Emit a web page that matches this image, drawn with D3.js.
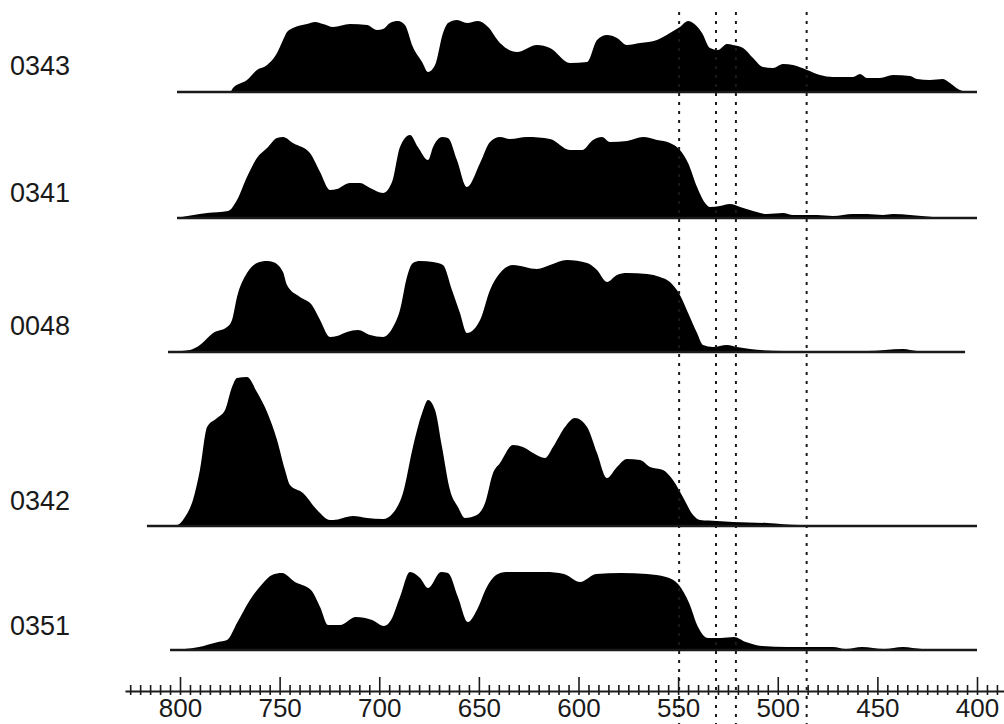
<!DOCTYPE html>
<html>
<head>
<meta charset="utf-8">
<script src="https://cdn.jsdelivr.net/npm/d3@7"></script>
<style>
  body { margin: 0; background: #fff; }
  svg { display: block; }
</style>
</head>
<body>
<svg id="canvas"></svg>
<script>
// sample names, top to bottom
const sampleNames = ["0343", "0341", "0048", "0342", "0351"];

// [wavelength nm, relative intensity]
const s0343 = [[801.5,0],[774.9,0],[773.4,4],[766.4,12],[761.4,22],[756.3,27],[751.3,39],[748.3,52],[746.3,60],[743.3,64],[736.3,68],[732.2,70],[728.2,68],[723.2,65],[714.7,68],[706.1,67],[701.1,62],[698.1,63],[694.6,69],[690.6,71],[687.1,67],[683.1,45],[678.5,30],[675.5,20],[672,27],[668,59],[665.5,69],[661,72],[656,69],[650.4,71],[645.4,65],[639.4,49],[630.9,40],[620.8,47],[614.3,44],[604.3,29],[595.7,30],[590.7,52],[585.7,57],[580.7,54],[575.7,47],[569.1,49],[560.6,52],[554.1,59],[549.1,65],[545,71],[542.5,69],[538,59],[534,44],[530,42],[525.5,48],[522.5,47],[517.4,44],[512.4,34],[507.4,25],[502.4,24],[497.4,28],[492.3,27],[485.3,22],[478.8,17],[472.3,15],[462.2,15],[458.7,18],[455.2,14],[448.7,14],[442.2,17],[433.6,16],[430.1,13],[423.6,12],[417.1,13],[413.6,9],[409.5,3],[407,1],[400,1]];
const s0341 = [[801.5,0],[786.4,5],[775.9,7],[771.4,18],[766.4,41],[761.4,60],[756.3,70],[751.3,80],[748.3,81],[743.3,75],[734.8,65],[729.7,46],[724.7,28],[721.2,29],[714.7,35],[709.7,35],[704.6,30],[698.1,25],[693.6,36],[689.6,71],[684.6,83],[680.6,71],[675.5,58],[673,71],[668.5,81],[665.5,80],[661,58],[656,31],[649.4,55],[644.4,76],[639.4,81],[634.4,79],[625.8,81],[614.3,79],[604.3,68],[598.2,68],[592.7,78],[588.2,81],[584.2,76],[575.7,77],[567.6,81],[560.6,78],[554.1,75],[549.1,68],[545,55],[540.5,31],[536.5,15],[534,11],[529,12],[524,14],[518.9,11],[512.4,7],[505.4,4],[497.4,5],[492.3,3],[480.3,3],[472.3,2],[462.2,4],[455.2,4],[447.2,3],[442.2,4],[433.6,3],[422.1,1],[400,0]];
const s0048 = [[806,0],[795,2],[790,7],[783.4,19],[776.4,25],[773.9,32],[771.4,55],[766.4,79],[761.4,89],[756.3,91],[753.3,90],[748.3,80],[746.3,67],[739.8,55],[733.8,47],[729.7,32],[724.7,15],[721.2,16],[716.2,20],[710.7,22],[704.6,17],[698.1,15],[693.1,25],[689.6,42],[686.1,75],[683.1,89],[679.5,91],[673,90],[668,87],[663.5,62],[659.5,39],[656,19],[649.4,32],[644.4,62],[639.4,79],[632.9,87],[620.8,83],[614.3,87],[605.8,92],[595.7,89],[590.7,82],[585.7,70],[580.7,77],[575.7,79],[565.6,78],[559.1,75],[554.1,70],[549.1,57],[545,39],[540.5,19],[537.5,7],[532.5,5],[525.5,7],[520.5,5],[513.9,3],[497.4,1],[472.3,1],[455.2,1],[437.1,3],[430.1,1],[406,0]];
const s0342 = [[816.6,0],[801.5,1],[797.5,9],[793.5,26],[790,56],[786.4,99],[781.4,108],[777.4,116],[773.9,139],[771.4,148],[766.4,149],[761.4,134],[756.3,114],[751.3,86],[747.3,56],[744.8,41],[738.3,33],[731.2,16],[724.7,6],[723.2,6],[713.2,10],[706.1,8],[698.1,7],[693.1,13],[688.1,33],[683.1,79],[678.5,113],[675.5,126],[672,116],[668.5,79],[664.5,36],[660.5,19],[657,8],[651,11],[646.9,23],[642.9,53],[639.4,63],[632.9,81],[627.9,79],[622.8,73],[616.8,68],[612.8,79],[606.8,99],[601.8,108],[595.7,99],[590.7,73],[585.7,48],[580.7,59],[575.7,67],[569.1,66],[564.1,59],[557.6,56],[552.6,46],[547.6,29],[542.5,11],[539,6],[530.5,5],[522.5,4],[505.4,3],[488.8,1],[400,0]];
const s0351 = [[805,0],[790.5,3],[780.9,8],[776.4,10],[771.4,27],[764.9,50],[758.3,67],[753.8,75],[748.8,77],[742.3,68],[734.3,60],[729.7,43],[725.7,25],[719.7,25],[711.7,33],[703.6,30],[697.6,24],[694.1,30],[689.6,53],[684.6,78],[679.5,72],[675.5,62],[669,78],[665.5,77],[660.5,53],[655.5,28],[651,40],[646,63],[641.4,75],[636.4,78],[626.9,78],[616.8,78],[607.3,76],[599.2,68],[591.2,76],[578.7,77],[565.6,76],[556.1,73],[549.6,65],[544.5,47],[540,23],[535,12],[528.5,12],[522,13],[516,8],[508,4],[494.9,3],[472.3,3],[465.8,1],[457.7,3],[446.7,1],[437.1,3],[427.6,1],[400,0]];
const allSeries = [s0343, s0341, s0048, s0342, s0351];

// reference wavelengths (dotted lines)
const markerWl = [549.5, 531, 521, 485.5];

// axis ticks
const tickFrom = 825, tickTo = 390, tickStep = 5, labelStep = 50;

const width = 1004;
const height = 724;
const panelBase = [92, 218, 352, 526, 650];
const panelLabelY = [75, 202, 335, 510, 635];
const axisY = 691;
const ink = "#1a1a1a";

const svg = d3.select("#canvas").attr("width", width).attr("height", height).attr("viewBox", `0 0 ${width} ${height}`);

const xScale = d3.scaleLinear().domain([800, 400]).range([180, 977]);
const hScale = d3.scaleLinear().domain([0, 150]).range([0, 150]);

const panels = svg.append("g").classed("panels", true);

allSeries.forEach((s, i) => {
    const base = panelBase[i];
    const yScale = d3.scaleLinear().domain([0, 150]).range([base, base - hScale(150)]);
    const data = s.slice().sort((a, b) => b[0] - a[0]);
    const area = d3.area()
        .x(d => xScale(d[0]))
        .y0(yScale(0))
        .y1(d => yScale(d[1]))
        .curve(d3.curveMonotoneX);

    const g = panels.append("g").classed("panel", true);
    g.append("path")
        .datum(data)
        .attr("d", area)
        .attr("fill", "#000");

    const ext = d3.extent(data, d => d[0]);
    g.append("line")
        .attr("x1", xScale(ext[1]))
        .attr("x2", xScale(ext[0]))
        .attr("y1", yScale(0))
        .attr("y2", yScale(0))
        .attr("stroke", ink)
        .attr("stroke-width", 2.5);

    g.append("text")
        .attr("x", 10)
        .attr("y", panelLabelY[i])
        .attr("fill", ink)
        .style("font-family", "'Liberation Sans', Arial, sans-serif")
        .style("font-size", "27px")
        .text(sampleNames[i]);
});

// dotted reference lines
svg.append("g").classed("markers", true)
    .selectAll("line")
    .data(markerWl)
    .join("line")
    .attr("x1", d => xScale(d))
    .attr("x2", d => xScale(d))
    .attr("y1", 12)
    .attr("y2", height)
    .attr("stroke", ink)
    .attr("stroke-width", 2)
    .attr("stroke-dasharray", "3,6");

// wavelength axis
const axisScale = xScale.copy().domain([xScale.invert(125), xScale.invert(1004)]).range([125, 1004]);
const tickVals = d3.range(tickFrom, tickTo - 0.1, -tickStep);
const xAxis = d3.axisBottom(axisScale)
    .tickValues(tickVals)
    .tickSize(0)
    .tickSizeOuter(0)
    .tickPadding(8)
    .tickFormat(d => d % labelStep === 0 ? d : "");

svg.append("g")
    .classed("xAxis", true)
    .attr("transform", `translate(0, ${axisY})`)
    .call(xAxis)
    .call(g => g.select(".domain").attr("stroke", ink).attr("stroke-width", 2))
    .call(g => g.selectAll(".tick line")
        .attr("stroke", ink)
        .attr("stroke-width", 1.6)
        .attr("y1", d => d % labelStep === 0 ? -14 : -6)
        .attr("y2", 4))
    .call(g => g.selectAll(".tick text")
        .attr("fill", ink)
        .style("font-family", "'Liberation Sans', Arial, sans-serif")
        .style("font-size", "26px"));
</script>
</body>
</html>
